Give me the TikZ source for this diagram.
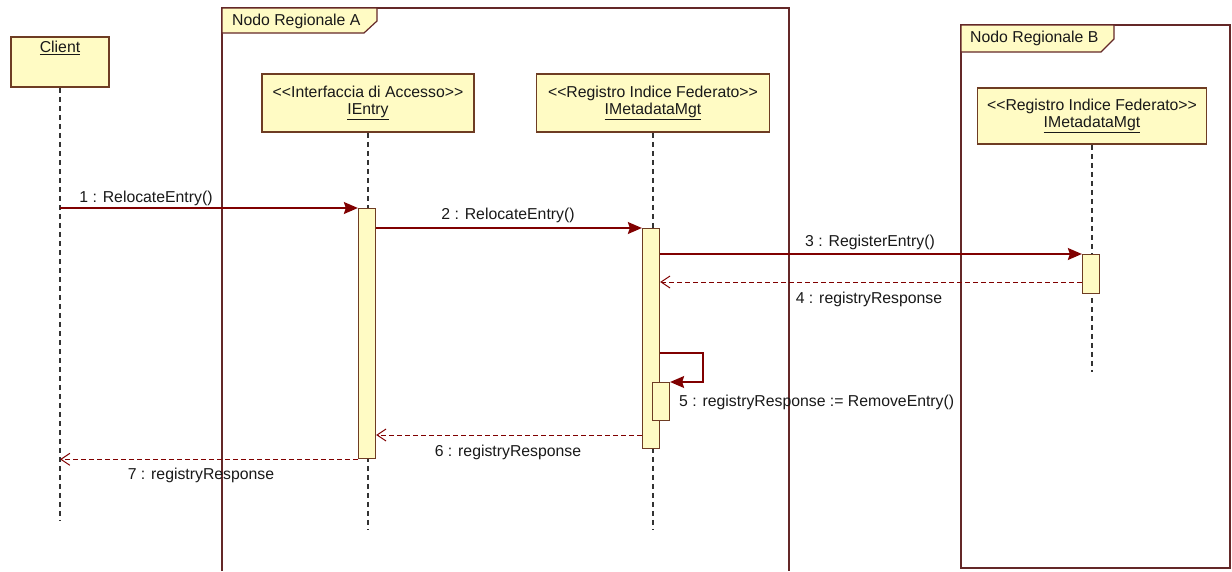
\documentclass[tikz,border=0pt]{standalone}
\usepackage{fontspec}
\setmainfont{Liberation Sans}
\usetikzlibrary{arrows.meta,calc}
\definecolor{boxfill}{RGB}{255,251,196}
\definecolor{boxline}{RGB}{110,60,35}
\definecolor{frameline}{RGB}{100,40,40}
\definecolor{msgline}{RGB}{128,0,0}
\begin{document}
\begin{tikzpicture}[x=1pt,y=-1pt, font=\fontsize{15.8}{17}\selectfont,
  box/.style={draw=boxline, line width=1.6pt, fill=boxfill, inner sep=0pt, align=center, text=black!90},
  act/.style={draw=boxline, line width=1.3pt, fill=boxfill, minimum width=17pt, inner sep=0pt, anchor=north},
  life/.style={draw=black!80, line width=1.2pt, dash pattern=on 5pt off 4pt},
  call/.style={draw=msgline, line width=1.3pt, -{Stealth[length=14pt,width=12pt,inset=2pt]}},
  reply/.style={draw=msgline, line width=1pt, dash pattern=on 5pt off 3pt, -{Straight Barb[length=9pt,width=12pt]}},
  lbl/.style={text=black!90, inner sep=0pt},
  frm/.style={draw=frameline, line width=1.5pt},
  tab/.style={draw=frameline, line width=1.2pt, fill=boxfill}]
\useasboundingbox (0,0) rectangle (1232,571);

% frames
\draw[frm] (222,571) -- (222,8) -- (789,8) -- (789,571);
\draw[tab] (222,8) -- (377,8) -- (377,21) -- (364,33) -- (222,33) -- cycle;
\node[lbl, anchor=west] (tabA) at (232,21) {Nodo Regionale A};
\draw[frm] (961,25) rectangle (1230,568);
\draw[tab] (961,25) -- (1114,25) -- (1114,39) -- (1101,52) -- (961,52) -- cycle;
\node[lbl, anchor=west] (tabB) at (970,38) {Nodo Regionale B};

% lifeline heads
\node[box, minimum width=98pt, minimum height=50pt] (client) at (60,62) {};
\node[lbl, anchor=north] (clientname) at (60,41) {\underline{Client}};
\node[box, minimum width=212pt, minimum height=58pt] (ientry) at (368,103) {{<}{<}Interfaccia di Accesso{>}{>}\\\underline{IEntry}};
\node[box, minimum width=233pt, minimum height=58pt] (imeta) at (653,103) {{<}{<}Registro Indice Federato{>}{>}\\\underline{IMetadataMgt}};
\node[box, minimum width=229pt, minimum height=56pt] (imetaB) at (1092,116) {{<}{<}Registro Indice Federato{>}{>}\\\underline{IMetadataMgt}};

\coordinate (clientend) at (60,520);
\coordinate (ientryend) at (368,530);
\coordinate (imetaend) at (653,530);
\coordinate (imetaBend) at (1092,372);
\draw[life] (client.south) -- (clientend);
\draw[life] (ientry.south) -- (ientryend);
\draw[life] (imeta.south) -- (imetaend);
\draw[life] (imetaB.south) -- (imetaBend);

% activations
\node[act, minimum height=250pt] (actE) at (367,208) {};
\node[act, minimum height=220pt] (actM) at (651,228) {};
\node[act, minimum height=39pt] (actB) at (1091,254) {};
\node[act, minimum height=38pt] (actN) at (661,382) {};

% messages
\coordinate (r4) at (1083,282);
\coordinate (s1) at (703,353);
\coordinate (s2) at (703,382);
\coordinate (r6) at (642,435);
\draw[call] (client.south |- actE.north) -- (actE.north west);
\draw[call] (actE.east |- actM.north) -- (actM.north west);
\draw[call] (actM.east |- actB.north) -- (actB.north west);
\draw[reply] (actB.west |- r4) -- (actM.east |- r4);
\draw[call] (actM.east |- s1) -- (s1) -- (s2) -- (actN.north east);
\draw[reply] (actM.west |- r6) -- (actE.east |- r6);
\draw[reply] (actE.south west) -- (client.south |- actE.south);

% redraw activations on top
\node[act, minimum height=250pt] at (367,208) {};
\node[act, minimum height=220pt] at (651,228) {};
\node[act, minimum height=39pt] at (1091,254) {};
\node[act, minimum height=38pt] at (661,382) {};

% labels
\node[lbl] (l1) at (146,198) {1 : RelocateEntry()};
\node[lbl] (l2) at (508,215) {2 : RelocateEntry()};
\node[lbl] (l3) at (870,242) {3 : RegisterEntry()};
\node[lbl] (l4) at (869,299) {4 : registryResponse};
\node[lbl, anchor=west] (l5) at (679,402) {5 : registryResponse := RemoveEntry()};
\node[lbl] (l6) at (508,452) {6 : registryResponse};
\node[lbl] (l7) at (201,475) {7 : registryResponse};
\end{tikzpicture}
\end{document}
